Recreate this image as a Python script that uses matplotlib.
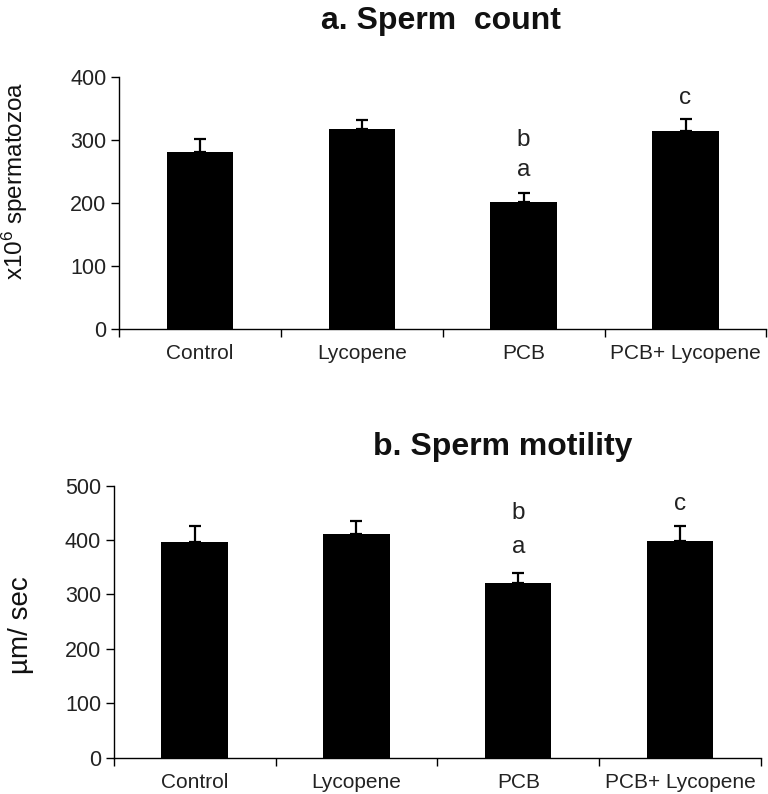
import matplotlib
matplotlib.use("Agg")
import matplotlib.pyplot as plt
import numpy as np

plt.rcParams['mathtext.fontset'] = 'custom'
plt.rcParams['mathtext.rm'] = 'Liberation Sans'
plt.rcParams['mathtext.it'] = 'Liberation Sans'

groups = ['Control', 'Lycopene', 'PCB', 'PCB+ Lycopene']

count_mean = [281, 317, 201, 314]
count_err = [21, 15, 15, 19]

motility_mean = [396, 411, 321, 398]
motility_err = [29, 24, 18, 27]

FONT = ['Liberation Sans', 'DejaVu Sans']


def draw_panel(ax, means, errs, ymax, step, ylabel, ylabel_size, letter_pos):
    x = np.arange(len(groups))
    ax.bar(x, means, width=0.41, color='black', zorder=2)
    ax.errorbar(x, means, yerr=[[0] * len(errs), errs], fmt='none',
                ecolor='black', elinewidth=1.6, capsize=4.5, capthick=1.6,
                zorder=1)
    ax.set_xlim(-0.5, len(groups) - 0.5)
    ax.set_ylim(0, ymax)
    ticks = np.arange(0, ymax + 1, step)
    ax.set_yticks(ticks)
    ax.set_yticklabels([str(v) for v in ticks], family=FONT, fontsize=15.5,
                       color='#222222')
    # ticks at category boundaries, labels centred
    ax.set_xticks(np.arange(-0.5, len(groups) + 0.5, 1.0))
    ax.set_xticklabels([])
    ax.set_xticks(x, minor=True)
    ax.set_xticklabels(groups, minor=True, family=FONT, fontsize=15,
                       color='#222222')
    ax.tick_params(axis='x', which='minor', length=0, pad=11)
    ax.tick_params(axis='x', which='major', length=6, width=1, direction='out')
    ax.tick_params(axis='y', length=6, width=1, direction='out', pad=3)
    for s in ['top', 'right']:
        ax.spines[s].set_visible(False)
    ax.spines['left'].set_linewidth(1)
    ax.spines['bottom'].set_linewidth(1)
    ax.set_ylabel(ylabel, family=FONT, fontsize=ylabel_size, color='#111111')
    for i, (labels, ys) in enumerate(letter_pos):
        for lab, yy in zip(labels, ys):
            ax.text(i, yy, lab, ha='center', va='center',
                    family=FONT, fontsize=17.5, color='#222222')


fig = plt.figure(figsize=(7.68, 7.94), dpi=100)

ax1 = fig.add_axes([0.155, 0.5856, 0.843, 0.3178])
draw_panel(ax1, count_mean, count_err, 400, 100, r'x10$^{6}$ spermatozoa', 17.5,
           [([], []), ([], []), (['b', 'a'], [300, 252]), (['c'], [366])])
ax1.yaxis.set_label_coords(-0.137, 0.587)

ax2 = fig.add_axes([0.148, 0.0457, 0.843, 0.3426])
draw_panel(ax2, motility_mean, motility_err, 500, 100, 'µm/ sec', 20,
           [([], []), ([], []), (['b', 'a'], [449, 388]), (['c'], [467])])
ax2.yaxis.set_label_coords(-0.123, 0.488)

fig.text(0.574, 0.974, 'a. Sperm  count', ha='center', va='center',
         family=FONT, fontsize=23, fontweight='bold', color='#111111')
fig.text(0.654, 0.437, 'b. Sperm motility', ha='center', va='center',
         family=FONT, fontsize=23, fontweight='bold', color='#111111')

fig.savefig('out.png', dpi=100)
